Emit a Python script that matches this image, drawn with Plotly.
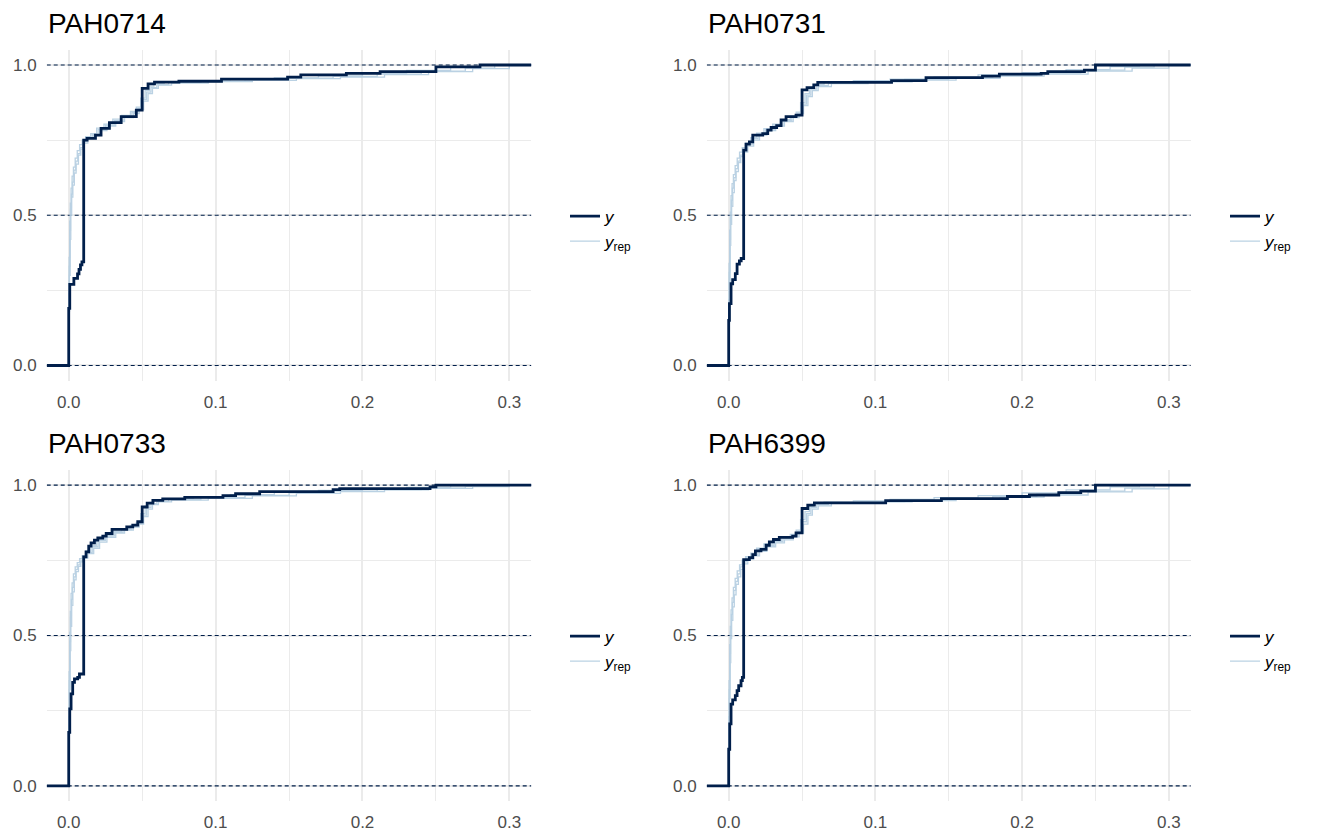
import plotly.graph_objects as go
from plotly.subplots import make_subplots

# ---------------- data ----------------
PANELS = ["PAH0714", "PAH0731", "PAH0733", "PAH6399"]

# observed ECDF breakpoints (x, value after x)
Y1_X = [-0.015, 0.0, 0.0007, 0.0035, 0.006, 0.007, 0.008, 0.009, 0.0102, 0.0125, 0.0182, 0.022, 0.0277, 0.0357, 0.046, 0.05, 0.054, 0.0584, 0.075, 0.104, 0.149, 0.158, 0.189, 0.212, 0.25, 0.28, 0.315]
Y1_Y = [0.0, 0.19, 0.27, 0.29, 0.305, 0.32, 0.335, 0.345, 0.75, 0.756, 0.767, 0.789, 0.808, 0.828, 0.85, 0.922, 0.937, 0.943, 0.946, 0.953, 0.96, 0.967, 0.972, 0.978, 0.994, 1.0, 1.0]

Y2_X = [-0.015, 0.0, 0.0005, 0.0016, 0.0027, 0.0045, 0.0057, 0.0073, 0.0085, 0.0102, 0.0118, 0.0141, 0.0164, 0.0232, 0.0266, 0.0289, 0.0327, 0.0357, 0.0391, 0.0459, 0.05, 0.0534, 0.058, 0.0607, 0.111, 0.1345, 0.173, 0.1845, 0.213, 0.2175, 0.2425, 0.25, 0.315]
Y2_Y = [0.0, 0.15, 0.206, 0.272, 0.286, 0.306, 0.337, 0.348, 0.356, 0.717, 0.737, 0.744, 0.767, 0.772, 0.783, 0.792, 0.798, 0.817, 0.828, 0.833, 0.917, 0.925, 0.934, 0.942, 0.948, 0.958, 0.963, 0.97, 0.972, 0.978, 0.983, 1.0, 1.0]

Y3_X = [-0.015, 0.0, 0.0007, 0.0016, 0.0027, 0.0039, 0.0061, 0.0073, 0.0102, 0.0118, 0.0136, 0.0152, 0.0175, 0.0198, 0.0232, 0.0255, 0.0295, 0.0395, 0.0436, 0.047, 0.05, 0.0534, 0.0573, 0.064, 0.079, 0.105, 0.1136, 0.13, 0.18, 0.1845, 0.246, 0.25, 0.315]
Y3_Y = [0.0, 0.178, 0.256, 0.306, 0.344, 0.356, 0.361, 0.372, 0.761, 0.778, 0.797, 0.808, 0.817, 0.824, 0.83, 0.839, 0.853, 0.861, 0.867, 0.878, 0.927, 0.94, 0.949, 0.954, 0.959, 0.965, 0.971, 0.978, 0.985, 0.988, 0.994, 1.0, 1.0]

Y4_X = [-0.015, 0.0, 0.0007, 0.0016, 0.0027, 0.0045, 0.0057, 0.0068, 0.0084, 0.0093, 0.0102, 0.0141, 0.0164, 0.0182, 0.022, 0.0255, 0.0277, 0.0305, 0.0345, 0.0436, 0.0459, 0.05, 0.0539, 0.0584, 0.107, 0.145, 0.19, 0.205, 0.225, 0.24, 0.25, 0.315]
Y4_Y = [0.0, 0.122, 0.206, 0.272, 0.286, 0.3, 0.317, 0.333, 0.35, 0.361, 0.752, 0.759, 0.769, 0.781, 0.786, 0.8, 0.811, 0.819, 0.826, 0.83, 0.841, 0.922, 0.933, 0.941, 0.948, 0.955, 0.962, 0.967, 0.975, 0.98, 1.0, 1.0]

# replicated ECDFs (three draws per panel), x grids per draw
REP_XA = [-0.015, 0, 0.0004, 0.0008, 0.0012, 0.0018, 0.0025, 0.0035, 0.0048, 0.0062, 0.0078, 0.0095, 0.012, 0.016, 0.02, 0.025, 0.031, 0.037, 0.043, 0.047, 0.05, 0.053, 0.056, 0.06, 0.068, 0.09, 0.12, 0.15, 0.18, 0.21, 0.24, 0.27, 0.29, 0.315]
REP_XB = [-0.015, 0, 0.0003, 0.0007, 0.0011, 0.0016, 0.0023, 0.0032, 0.0044, 0.0058, 0.0074, 0.0092, 0.0115, 0.015, 0.019, 0.024, 0.03, 0.036, 0.042, 0.046, 0.049, 0.052, 0.055, 0.058, 0.065, 0.085, 0.11, 0.14, 0.17, 0.2, 0.23, 0.26, 0.28, 0.315]
REP_XC = [-0.015, 0, 0.0005, 0.001, 0.0014, 0.002, 0.0028, 0.0038, 0.005, 0.0066, 0.0082, 0.01, 0.013, 0.017, 0.021, 0.026, 0.032, 0.038, 0.044, 0.048, 0.051, 0.054, 0.057, 0.061, 0.07, 0.095, 0.125, 0.155, 0.185, 0.215, 0.245, 0.275, 0.3, 0.315]

P1_REP_A = [0, 0.2, 0.33, 0.45, 0.52, 0.57, 0.61, 0.65, 0.68, 0.705, 0.725, 0.745, 0.758, 0.768, 0.785, 0.8, 0.815, 0.828, 0.842, 0.856, 0.885, 0.91, 0.925, 0.935, 0.942, 0.946, 0.95, 0.956, 0.962, 0.97, 0.98, 0.99, 1.0, 1.0]
P1_REP_B = [0, 0.24, 0.36, 0.48, 0.54, 0.59, 0.63, 0.66, 0.69, 0.715, 0.735, 0.75, 0.762, 0.772, 0.79, 0.803, 0.82, 0.832, 0.846, 0.86, 0.89, 0.915, 0.93, 0.938, 0.944, 0.947, 0.951, 0.957, 0.964, 0.972, 0.982, 0.992, 1.0, 1.0]
P1_REP_C = [0, 0.18, 0.3, 0.42, 0.5, 0.56, 0.6, 0.64, 0.67, 0.7, 0.72, 0.74, 0.755, 0.765, 0.782, 0.797, 0.812, 0.825, 0.838, 0.852, 0.88, 0.905, 0.922, 0.933, 0.94, 0.945, 0.949, 0.955, 0.96, 0.968, 0.978, 0.988, 1.0, 1.0]

P2_REP_A = [0, 0.19, 0.31, 0.42, 0.49, 0.55, 0.59, 0.625, 0.655, 0.68, 0.7, 0.715, 0.735, 0.755, 0.77, 0.785, 0.8, 0.815, 0.828, 0.84, 0.87, 0.9, 0.92, 0.932, 0.94, 0.946, 0.952, 0.958, 0.965, 0.973, 0.983, 0.993, 1.0, 1.0]
P2_REP_B = [0, 0.22, 0.34, 0.45, 0.51, 0.565, 0.605, 0.635, 0.665, 0.69, 0.71, 0.725, 0.74, 0.758, 0.773, 0.788, 0.803, 0.818, 0.83, 0.843, 0.875, 0.905, 0.925, 0.935, 0.942, 0.948, 0.953, 0.96, 0.967, 0.975, 0.985, 0.995, 1.0, 1.0]
P2_REP_C = [0, 0.17, 0.28, 0.4, 0.47, 0.53, 0.575, 0.615, 0.645, 0.675, 0.695, 0.71, 0.73, 0.75, 0.767, 0.782, 0.797, 0.812, 0.825, 0.838, 0.865, 0.895, 0.915, 0.928, 0.938, 0.944, 0.95, 0.956, 0.963, 0.97, 0.98, 0.99, 1.0, 1.0]

P3_REP_A = [0, 0.2, 0.35, 0.48, 0.56, 0.62, 0.66, 0.695, 0.72, 0.735, 0.748, 0.76, 0.775, 0.795, 0.815, 0.83, 0.843, 0.852, 0.862, 0.872, 0.9, 0.925, 0.938, 0.946, 0.952, 0.958, 0.966, 0.974, 0.98, 0.985, 0.99, 0.996, 1.0, 1.0]
P3_REP_B = [0, 0.23, 0.38, 0.51, 0.58, 0.64, 0.675, 0.705, 0.728, 0.742, 0.755, 0.765, 0.78, 0.8, 0.818, 0.833, 0.846, 0.855, 0.866, 0.876, 0.905, 0.93, 0.942, 0.95, 0.955, 0.96, 0.968, 0.976, 0.982, 0.987, 0.992, 0.997, 1.0, 1.0]
P3_REP_C = [0, 0.18, 0.32, 0.45, 0.53, 0.6, 0.645, 0.685, 0.712, 0.73, 0.745, 0.757, 0.772, 0.79, 0.81, 0.826, 0.84, 0.85, 0.86, 0.87, 0.895, 0.92, 0.935, 0.944, 0.95, 0.956, 0.964, 0.972, 0.978, 0.984, 0.989, 0.995, 1.0, 1.0]

P4_REP_A = [0, 0.19, 0.32, 0.44, 0.51, 0.57, 0.61, 0.65, 0.68, 0.705, 0.728, 0.745, 0.758, 0.77, 0.785, 0.8, 0.812, 0.822, 0.832, 0.845, 0.878, 0.905, 0.925, 0.935, 0.941, 0.945, 0.95, 0.956, 0.962, 0.97, 0.98, 0.99, 1.0, 1.0]
P4_REP_B = [0, 0.23, 0.35, 0.47, 0.53, 0.585, 0.625, 0.66, 0.69, 0.715, 0.735, 0.75, 0.762, 0.774, 0.79, 0.804, 0.816, 0.826, 0.836, 0.85, 0.885, 0.912, 0.93, 0.938, 0.943, 0.947, 0.952, 0.958, 0.965, 0.974, 0.984, 0.994, 1.0, 1.0]
P4_REP_C = [0, 0.17, 0.29, 0.41, 0.49, 0.55, 0.595, 0.635, 0.67, 0.695, 0.72, 0.738, 0.753, 0.765, 0.78, 0.795, 0.808, 0.818, 0.828, 0.84, 0.87, 0.9, 0.92, 0.931, 0.939, 0.944, 0.948, 0.954, 0.96, 0.967, 0.977, 0.987, 1.0, 1.0]

X_TICKS = [0.0, 0.1, 0.2, 0.3]
Y_TICKS = [0.0, 0.5, 1.0]
HLINES = [0.0, 0.5, 1.0]
X_RANGE = [-0.015, 0.315]
Y_RANGE = [-0.05, 1.05]

OBS = [(Y1_X, Y1_Y), (Y2_X, Y2_Y), (Y3_X, Y3_Y), (Y4_X, Y4_Y)]
REPS = [
    [P1_REP_A, P1_REP_B, P1_REP_C],
    [P2_REP_A, P2_REP_B, P2_REP_C],
    [P3_REP_A, P3_REP_B, P3_REP_C],
    [P4_REP_A, P4_REP_B, P4_REP_C],
]
REP_XS = [REP_XA, REP_XB, REP_XC]

# ---------------- style ----------------
DARK = "#011f4b"
LIGHT = "#b3cde0"
GRID = "#ebebeb"
FONT = "Liberation Sans, Arial, sans-serif"
W, H = 1320, 840

fig = make_subplots(rows=2, cols=2)

x_domains = [[46.7 / W, 531.4 / W], [706.7 / W, 1190.8 / W]]
y_domains = [[1 - 380.5 / H, 1 - 50 / H], [1 - 801 / H, 1 - 470 / H]]

legend_names = ["legend", "legend2", "legend3", "legend4"]

for i, name in enumerate(PANELS):
    r, c = i // 2 + 1, i % 2 + 1
    lg = legend_names[i]
    # dashed reference lines (drawn first so they sit under the curves)
    hx, hy = [], []
    for h in HLINES:
        hx += X_RANGE + [None]
        hy += [h, h, None]
    fig.add_trace(go.Scatter(x=hx, y=hy, mode="lines", line=dict(color=DARK, width=1.2, dash="4px,3px"),
                             showlegend=False, hoverinfo="skip", legend=lg), row=r, col=c)
    # replicated draws as one trace (gaps separate draws)
    xs, ys = [], []
    for k, rep in enumerate(REPS[i]):
        xs += REP_XS[k] + [None]
        ys += rep + [None]
    fig.add_trace(go.Scatter(x=xs, y=ys, mode="lines", line=dict(color=LIGHT, width=1.3, shape="hv"),
                             opacity=0.9, name="<i>y</i><sub>rep</sub>", legend=lg,
                             legendgroup="rep%d" % i, legendrank=2, hoverinfo="skip"), row=r, col=c)
    ox, oy = OBS[i]
    fig.add_trace(go.Scatter(x=ox, y=oy, mode="lines", line=dict(color=DARK, width=2.8, shape="hv"),
                             name="<i>y</i>", legend=lg, legendgroup="y%d" % i, legendrank=1,
                             hoverinfo="skip"), row=r, col=c)

axis_common = dict(showline=False, zeroline=False, ticks="", gridcolor=GRID,
                   tickfont=dict(family=FONT, size=17, color="#4d4d4d"))

for i in range(4):
    r, c = i // 2, i % 2
    sfx = "" if i == 0 else str(i + 1)
    fig.layout["xaxis" + sfx].update(domain=x_domains[c], range=X_RANGE, tickvals=X_TICKS,
                                     tickformat=".1f", gridwidth=1.6, ticklabelstandoff=9,
                                     minor=dict(dtick=0.05, tick0=0, showgrid=True, gridcolor=GRID, gridwidth=0.8),
                                     **axis_common)
    fig.layout["yaxis" + sfx].update(domain=y_domains[r], range=Y_RANGE, tickvals=Y_TICKS,
                                     tickformat=".1f", gridwidth=1.6, ticklabelstandoff=9,
                                     minor=dict(dtick=0.25, tick0=0, showgrid=True, gridcolor=GRID, gridwidth=0.8),
                                     **axis_common)

# titles
title_pos = [(46.5, 23.3), (706.5, 23.3), (46.5, 443.3), (706.5, 443.3)]
for i, name in enumerate(PANELS):
    px, py = title_pos[i]
    fig.add_annotation(text=name, xref="paper", yref="paper", x=px / W, y=1 - py / H,
                       xanchor="left", yanchor="middle", showarrow=False,
                       font=dict(family=FONT, size=28, color="#000000"), borderpad=0)

# legends
leg_pos = [(565, 229), (1225, 229), (565, 649), (1225, 649)]
lay = {}
for i, lg in enumerate(legend_names):
    px, py = leg_pos[i]
    lay[lg] = dict(x=px / W, y=1 - py / H, xanchor="left", yanchor="middle",
                   font=dict(family=FONT, size=17, color="#000000"), bgcolor="rgba(0,0,0,0)",
                   tracegroupgap=6, traceorder="normal")
fig.update_layout(**lay)

fig.update_layout(width=W, height=H, margin=dict(l=0, r=0, t=0, b=0),
                  paper_bgcolor="white", plot_bgcolor="white", showlegend=True,
                  font=dict(family=FONT))

fig.write_html("out.html")
